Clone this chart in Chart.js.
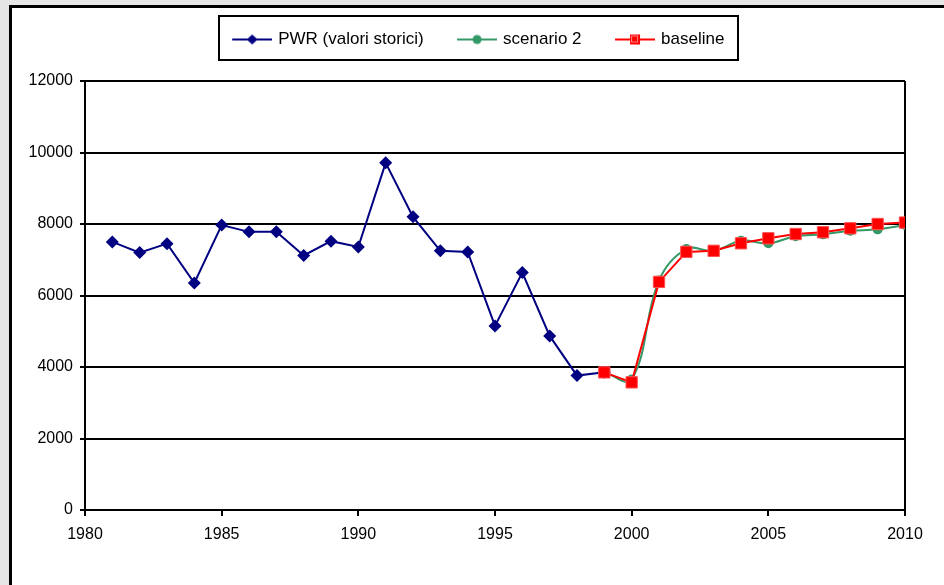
<!DOCTYPE html>
<html>
<head>
<meta charset="utf-8">
<script src="https://cdn.jsdelivr.net/npm/chart.js@4.4.1/dist/chart.umd.min.js"></script>
<style>
  html, body { margin: 0; padding: 0; background: #e6e6e6; }
  #wrap { width: 944px; height: 585px; }
</style>
</head>
<body>
<div id="wrap"><canvas id="c" width="944" height="585"></canvas></div>
<script>
// ---- data ----
const pwrYears = [1981,1982,1983,1984,1985,1986,1987,1988,1989,1990,1991,1992,1993,1994,1995,1996,1997,1998,1999];
const pwrValues = [7500,7200,7450,6350,7970,7780,7780,7120,7520,7360,9710,8200,7250,7220,5150,6640,4870,3760,3850];
const scenYears = [1999,2000,2001,2002,2003,2004,2005,2006,2007,2008,2009,2010];
const scenario2Values = [3850,3650,6420,7300,7250,7530,7460,7660,7710,7810,7850,7970];
const baselineValues = [3850,3570,6380,7220,7250,7460,7600,7720,7770,7880,8000,8040];
const seriesNames = ['PWR (valori storici)', 'scenario 2', 'baseline'];
const xTickValues = [1980,1985,1990,1995,2000,2005,2010];
const yTickValues = [0,2000,4000,6000,8000,10000,12000];

const FONT = "'Liberation Sans', Arial, sans-serif";
const NAVY = '#000080', GREEN = '#339966', RED = '#ff0000';

function toPoints(xs, ys) { return xs.map((x, i) => ({x: x, y: ys[i]})); }

// legend symbols: line with marker (45px wide image, line spans px 5..45)
function legendSymbol(color, kind) {
  const cv = document.createElement('canvas');
  cv.width = 45; cv.height = 14;
  const g = cv.getContext('2d');
  g.strokeStyle = color; g.lineWidth = 2;
  g.beginPath(); g.moveTo(5, 7); g.lineTo(45, 7); g.stroke();
  g.fillStyle = color;
  const cx = 25, cy = 7;
  g.beginPath();
  if (kind === 'diamond') {
    g.moveTo(cx - 5.5, cy); g.lineTo(cx, cy - 5); g.lineTo(cx + 5.5, cy); g.lineTo(cx, cy + 5); g.closePath(); g.fill();
  } else if (kind === 'circle') {
    g.arc(cx, cy, 4.5, 0, Math.PI * 2); g.fill();
  } else {
    g.rect(cx - 5, cy - 5, 10, 10); g.fill();
    g.strokeStyle = '#ff8080'; g.lineWidth = 1;
    g.strokeRect(cx - 3.5, cy - 3.5, 6, 6);
  }
  return cv;
}
const legendSymbols = [legendSymbol(NAVY, 'diamond'), legendSymbol(GREEN, 'circle'), legendSymbol(RED, 'square')];

const framePlugin = {
  id: 'frame',
  beforeUpdate(chart) {
    if (chart.legend && !chart.legend._patched) {
      const lg = chart.legend;
      const orig = lg.fit.bind(lg);
      lg.fit = function() { orig(); this.height = 81; };
      lg._patched = true;
    }
  },
  beforeDraw(chart) {
    const ctx = chart.ctx;
    ctx.save();
    ctx.fillStyle = '#e6e6e6';
    ctx.fillRect(0, 0, chart.width, chart.height);
    ctx.fillStyle = '#ffffff';
    ctx.fillRect(9, 5, chart.width - 9, chart.height - 5);
    ctx.fillStyle = '#000000';
    ctx.fillRect(9, 5, 3, chart.height - 5);
    ctx.fillRect(9, 5, chart.width - 9, 3);
    ctx.restore();
  },
  afterDraw(chart) {
    const lg = chart.legend;
    if (!lg || !lg.legendHitBoxes || !lg.legendHitBoxes.length) return;
    const hb = lg.legendHitBoxes;
    const first = hb[0], last = hb[hb.length - 1];
    const left = first.left + 2.5 - 13;
    const right = last.left + last.width + 14;
    const top = first.top - 15;
    const bottom = first.top + first.height + 12;
    const ctx = chart.ctx;
    ctx.save();
    ctx.strokeStyle = '#000';
    ctx.lineWidth = 2;
    ctx.strokeRect(Math.round(left), Math.round(top), Math.round(right - left), Math.round(bottom - top));
    ctx.restore();
  }
};

new Chart(document.getElementById('c'), {
  type: 'line',
  data: {
    datasets: [
      {
        label: seriesNames[0],
        data: toPoints(pwrYears, pwrValues),
        borderColor: NAVY, backgroundColor: NAVY,
        borderWidth: 2, pointStyle: 'rectRot', pointRadius: 6.5,
        pointBorderWidth: 0, tension: 0, order: 3
      },
      {
        label: seriesNames[1],
        data: toPoints(scenYears, scenario2Values),
        borderColor: GREEN, backgroundColor: GREEN,
        borderWidth: 2, pointStyle: 'circle', pointRadius: 5,
        pointBorderWidth: 0, tension: 0.4, order: 2
      },
      {
        label: seriesNames[2],
        data: toPoints(scenYears, baselineValues),
        borderColor: RED, backgroundColor: RED,
        borderWidth: 2, pointStyle: 'rect', pointRadius: 8,
        pointBorderWidth: 1, pointBorderColor: '#ff5050', tension: 0, order: 1
      }
    ]
  },
  options: {
    responsive: false,
    animation: false,
    layout: { padding: { left: 10, right: 0, top: 0, bottom: 0 } },
    plugins: {
      tooltip: { enabled: false },
      legend: {
        position: 'top',
        labels: {
          usePointStyle: true,
          pointStyleWidth: 40,
          padding: 31,
          color: '#000',
          font: { family: FONT, size: 17 },
          generateLabels(chart) {
            const items = Chart.defaults.plugins.legend.labels.generateLabels(chart);
            items.sort((a, b) => a.datasetIndex - b.datasetIndex);
            items.forEach(it => { it.pointStyle = legendSymbols[it.datasetIndex]; });
            return items;
          }
        }
      }
    },
    scales: {
      x: {
        type: 'linear',
        min: xTickValues[0], max: xTickValues[xTickValues.length - 1],
        afterBuildTicks(scale) { scale.ticks = xTickValues.map(v => ({value: v})); },
        afterFit(scale) { scale.height = 75; },
        ticks: {
          color: '#000', padding: 9, maxRotation: 0, autoSkip: false,
          font: { family: FONT, size: 16 },
          callback: v => String(v)
        },
        grid: {
          drawOnChartArea: true,
          color: c => (c.tick && c.tick.value === 2010) ? '#000' : 'rgba(0,0,0,0)',
          lineWidth: 2,
          tickColor: '#000', tickWidth: 2, tickLength: 6
        },
        border: { display: true, color: '#000', width: 2 }
      },
      y: {
        min: yTickValues[0], max: yTickValues[yTickValues.length - 1],
        afterBuildTicks(scale) { scale.ticks = yTickValues.map(v => ({value: v})); },
        afterFit(scale) { scale.width = 75; },
        ticks: {
          color: '#000', padding: 7,
          font: { family: FONT, size: 16 },
          callback: v => String(v)
        },
        grid: { color: '#000', lineWidth: 2, tickColor: '#000', tickWidth: 2, tickLength: 5 },
        border: { display: true, color: '#000', width: 2 }
      },
      y2: {
        position: 'right',
        display: true,
        afterFit(scale) { scale.width = 39; },
        ticks: { display: false },
        grid: { display: false, drawTicks: false },
        border: { display: false }
      }
    }
  },
  plugins: [framePlugin]
});
</script>
</body>
</html>
